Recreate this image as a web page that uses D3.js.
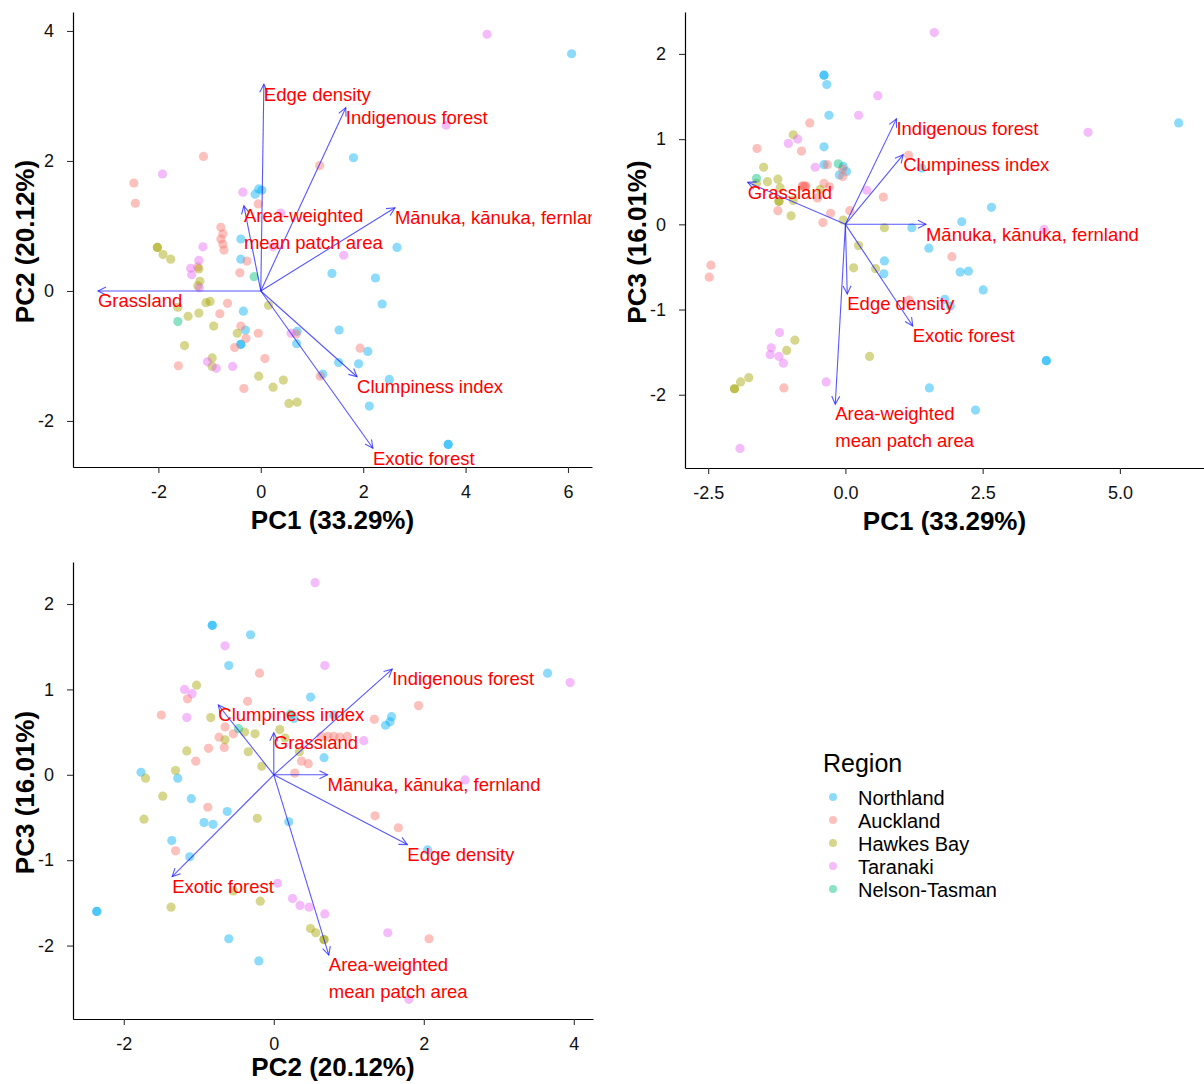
<!DOCTYPE html>
<html>
<head>
<meta charset="utf-8">
<script src="https://cdn.jsdelivr.net/npm/d3@7"></script>
<style>
  body { margin: 0; background: #fff; }
  svg { font-family: "Liberation Sans", Arial, sans-serif; }
</style>
</head>
<body>
<div id="chart"></div>
<script>
// ---- data: site scores on the first three PCs, one array per region ----
const regions = ['Northland', 'Auckland', 'Hawkes Bay', 'Taranaki', 'Nelson-Tasman'];
const regionColors = ['#00B0F6', '#F8766D', '#A3A500', '#E76BF3', '#00BF7D'];

// [PC1, PC2, PC3]
const northlandPCs = [
  [6.07, 3.65, 1.19], [1.81, 2.05, -0.88], [-0.04, 1.57, 0.68], [-0.11, 1.49, 0.58],
  [0.02, 1.55, 0.62], [-0.39, 0.80, 0.70], [2.66, 0.67, 0.20], [1.39, 0.27, 0.66],
  [2.24, 0.20, -0.55], [-0.39, 0.49, 0.91], [-0.34, -0.31, 1.64], [-0.30, -0.60, 1.28],
  [-0.39, -0.82, 1.75], [-0.39, -0.82, 1.75], [0.71, -0.62, -0.43], [0.70, -0.81, -0.58],
  [1.53, -0.60, -1.92], [2.37, -0.20, -2.18], [1.52, -1.10, -0.28], [1.91, -1.12, -0.96],
  [2.09, -0.93, -0.56], [1.21, -1.28, -0.04], [2.51, -1.36, -0.77], [2.12, -1.77, 0.03],
  [3.66, -2.36, -1.60], [3.66, -2.36, -1.60]
];
const aucklandPCs = [
  [-1.12, 2.07, -1.92], [-2.48, 1.66, -0.62], [-2.45, 1.35, -0.48], [1.15, 1.93, 0.81],
  [-0.05, 1.34, 0.65], [-0.78, 0.98, 0.45], [-0.74, 0.88, 0.44], [-0.78, 0.80, 0.45],
  [-0.74, 0.72, 0.45], [-0.72, 0.63, 0.45], [-0.27, 0.46, 0.13], [-0.41, 0.28, 0.02],
  [-1.23, 0.37, 0.16], [-0.65, -0.19, 1.19], [-0.80, -0.35, 0.86], [-0.39, -0.54, 0.48],
  [-0.29, -0.73, 0.44], [-0.05, -0.65, 0.56], [-0.51, -0.87, 0.31], [0.08, -1.04, 0.16],
  [-1.61, -1.15, 0.89], [-0.33, -1.50, 0.70], [0.69, -0.66, 0.32], [1.94, -0.88, -0.38],
  [1.16, -1.31, -0.89]
];
const hawkesBayPCs = [
  [-2.02, 0.67, -1.93], [-2.02, 0.67, -1.93], [-1.91, 0.56, -1.85], [-1.76, 0.49, -1.80],
  [-1.21, 0.34, 0.27], [-1.19, 0.15, 0.43], [-1.23, 0.08, 0.53], [-1.62, -0.25, 0.48],
  [-1.42, -0.39, 0.50], [-1.21, -0.34, 0.27], [-1.07, -0.18, -1.48], [-0.99, -0.16, 0.10],
  [-0.92, -0.54, -1.36], [-0.46, -0.65, 0.41], [-1.49, -0.84, 0.67], [-0.95, -1.03, 1.05],
  [-0.95, -1.16, 0.28], [0.15, -0.22, -0.51], [-0.04, -1.31, 0.05], [0.24, -1.48, -0.25],
  [0.44, -1.37, -1.55], [0.55, -1.73, -0.52], [0.71, -1.71, -0.04]
];
const taranakiPCs = [
  [4.42, 3.95, 1.08], [3.62, 2.55, -0.06], [-1.92, 1.80, -2.63], [-0.35, 1.52, -1.85],
  [0.39, 1.20, 0.40], [-1.13, 0.68, -1.63], [1.62, 0.55, 2.25], [0.24, 0.68, 1.28],
  [-1.21, 0.47, -1.55], [-1.37, 0.35, -1.53], [-1.35, 0.25, -1.45], [-1.20, 0.05, -1.27],
  [-1.04, -1.09, 0.95], [-0.87, -1.19, 1.00], [-0.55, -1.16, 0.67], [0.59, -0.65, 1.51]
];
const nelsonTasmanPCs = [
  [-1.62, -0.47, 0.54], [-0.13, 0.22, 0.71]
];
const regionSites = [northlandPCs, aucklandPCs, hawkesBayPCs, taranakiPCs, nelsonTasmanPCs];

// variable loadings (biplot arrows)
const variables = ['Edge density', 'Indigenous forest', 'Area-weighted\nmean patch area',
  'Mānuka, kānuka, fernland', 'Grassland', 'Clumpiness index', 'Exotic forest'];
const loadPC1 = [0.06, 1.66, -0.33, 2.62, -3.18, 1.88, 2.19];
const loadPC2 = [3.18, 2.82, 1.31, 1.28, 0.00, -1.32, -2.42];
const loadPC3 = [-1.46, 2.21, -3.77, 0.00, 0.88, 1.46, -2.13];
const loadings = [loadPC1, loadPC2, loadPC3];

const pcTitles = ['PC1 (33.29%)', 'PC2 (20.12%)', 'PC3 (16.01%)'];

const ticksPC1a = [-2, 0, 2, 4, 6];
const ticksPC1b = [-2.5, 0, 2.5, 5];
const ticksPC2 = [-2, 0, 2, 4];
const ticksPC3 = [-2, -1, 0, 1, 2];

// ---- layout ----
const W = 1204, H = 1084;
const fmtInt = d => (d < 0 ? '-' : '') + Math.abs(d);
const fmtOne = d => (d < 0 ? '-' : '') + Math.abs(d).toFixed(1);

const panels = [
  { xi: 0, yi: 1, left: 73, right: 592, top: 12, bottom: 467,
    xDomain: [-3.668, 6.469], yDomain: [-2.708, 4.292],
    xTicks: ticksPC1a, yTicks: ticksPC2, xFmt: fmtInt, arrowScale: 1 },
  { xi: 0, yi: 2, left: 685, right: 1204, top: 12, bottom: 468,
    xDomain: [-2.922, 6.532], yDomain: [-2.86, 2.492],
    xTicks: ticksPC1b, yTicks: ticksPC3, xFmt: fmtOne, arrowScale: 0.56 },
  { xi: 1, yi: 2, left: 73, right: 593, top: 562, bottom: 1019,
    xDomain: [-2.677, 4.256], yDomain: [-2.86, 2.492],
    xTicks: ticksPC2, yTicks: ticksPC3, xFmt: fmtInt, arrowScale: 0.56 }
];

const svg = d3.select('#chart').append('svg')
  .attr('width', W)
  .attr('height', H);

svg.append('rect').attr('width', W).attr('height', H).attr('fill', '#fff');

const defs = svg.append('defs');

panels.forEach((p, idx) => {
  const x = d3.scaleLinear().domain(p.xDomain).range([p.left, p.right]);
  const y = d3.scaleLinear().domain(p.yDomain).range([p.bottom, p.top]);

  const clipId = 'panel-clip-' + idx;
  defs.append('clipPath').attr('id', clipId)
    .append('rect')
    .attr('x', p.left).attr('y', p.top)
    .attr('width', p.right - p.left).attr('height', p.bottom - p.top);

  const plot = svg.append('g').attr('clip-path', `url(#${clipId})`);

  // site points
  regionSites.forEach((sites, i) => {
    plot.append('g').selectAll('circle')
      .data(sites)
      .join('circle')
      .attr('cx', d => x(d[p.xi]))
      .attr('cy', d => y(d[p.yi]))
      .attr('r', 4.6)
      .attr('fill', regionColors[i])
      .attr('fill-opacity', 0.45);
  });

  // loading arrows
  const arrows = variables.map((v, j) => ({
    name: v,
    x1: x(0), y1: y(0),
    x2: x(loadings[p.xi][j] * p.arrowScale),
    y2: y(loadings[p.yi][j] * p.arrowScale)
  }));

  const arrowG = plot.append('g')
    .attr('stroke', '#1f1fff')
    .attr('stroke-opacity', 0.75)
    .attr('stroke-width', 1.1)
    .attr('fill', 'none');

  arrowG.selectAll('line')
    .data(arrows)
    .join('line')
    .attr('x1', d => d.x1).attr('y1', d => d.y1)
    .attr('x2', d => d.x2).attr('y2', d => d.y2);

  arrowG.selectAll('path')
    .data(arrows)
    .join('path')
    .attr('d', d => {
      const ang = Math.atan2(d.y2 - d.y1, d.x2 - d.x1);
      const len = 9, spread = 0.46;
      const ax = d.x2 - len * Math.cos(ang - spread), ay = d.y2 - len * Math.sin(ang - spread);
      const bx = d.x2 - len * Math.cos(ang + spread), by = d.y2 - len * Math.sin(ang + spread);
      return `M${ax},${ay}L${d.x2},${d.y2}L${bx},${by}`;
    });

  // arrow labels
  const labels = plot.append('g')
    .attr('fill', '#ff0000')
    .attr('font-size', '18.5px');

  arrows.forEach(a => {
    const t = labels.append('text')
      .attr('x', a.x2)
      .attr('y', a.y2);
    a.name.split('\n').forEach((line, k) => {
      t.append('tspan')
        .attr('x', a.x2)
        .attr('dy', k === 0 ? '0.88em' : '1.43em')
        .text(line);
    });
  });

  // axes
  const xAxis = svg.append('g')
    .attr('transform', `translate(0,${p.bottom})`)
    .call(d3.axisBottom(x).tickValues(p.xTicks).tickFormat(p.xFmt)
      .tickSize(6).tickPadding(12).tickSizeOuter(0));

  const yAxis = svg.append('g')
    .attr('transform', `translate(${p.left},0)`)
    .call(d3.axisLeft(y).tickValues(p.yTicks).tickFormat(fmtInt)
      .tickSize(6).tickPadding(13).tickSizeOuter(0));

  [xAxis, yAxis].forEach(ax => {
    ax.attr('font-family', '"Liberation Sans", Arial, sans-serif')
      .attr('font-size', '18px');
    ax.select('.domain').attr('stroke', '#000').attr('stroke-width', 1.2);
    ax.selectAll('.tick line').attr('stroke', '#333').attr('stroke-width', 1.1);
    ax.selectAll('.tick text').attr('fill', '#111');
  });

  // axis titles
  svg.append('text')
    .attr('x', (p.left + p.right) / 2)
    .attr('y', Math.min(p.bottom + 62, H - 8))
    .attr('text-anchor', 'middle')
    .attr('font-weight', 'bold')
    .attr('font-size', '26px')
    .attr('fill', '#000')
    .text(pcTitles[p.xi]);

  svg.append('text')
    .attr('transform', `translate(${p.left - 39},${(p.top + p.bottom) / 2 + 2}) rotate(-90)`)
    .attr('text-anchor', 'middle')
    .attr('font-weight', 'bold')
    .attr('font-size', '26px')
    .attr('fill', '#000')
    .text(pcTitles[p.yi]);
});

// legend
const legend = svg.append('g').attr('transform', 'translate(823,772)');

legend.append('text')
  .attr('x', 0)
  .attr('y', 0)
  .attr('font-size', '25px')
  .attr('fill', '#000')
  .text('Region');

const items = legend.selectAll('g.item')
  .data(regions)
  .join('g')
  .attr('class', 'item')
  .attr('transform', (d, i) => `translate(0,${25 + i * 23})`);

items.append('circle')
  .attr('cx', 10)
  .attr('cy', 0)
  .attr('r', 4)
  .attr('fill', (d, i) => regionColors[i])
  .attr('fill-opacity', 0.45);

items.append('text')
  .attr('x', 35)
  .attr('y', 7.5)
  .attr('font-size', '20px')
  .attr('fill', '#000')
  .text(d => d);
</script>
</body>
</html>
